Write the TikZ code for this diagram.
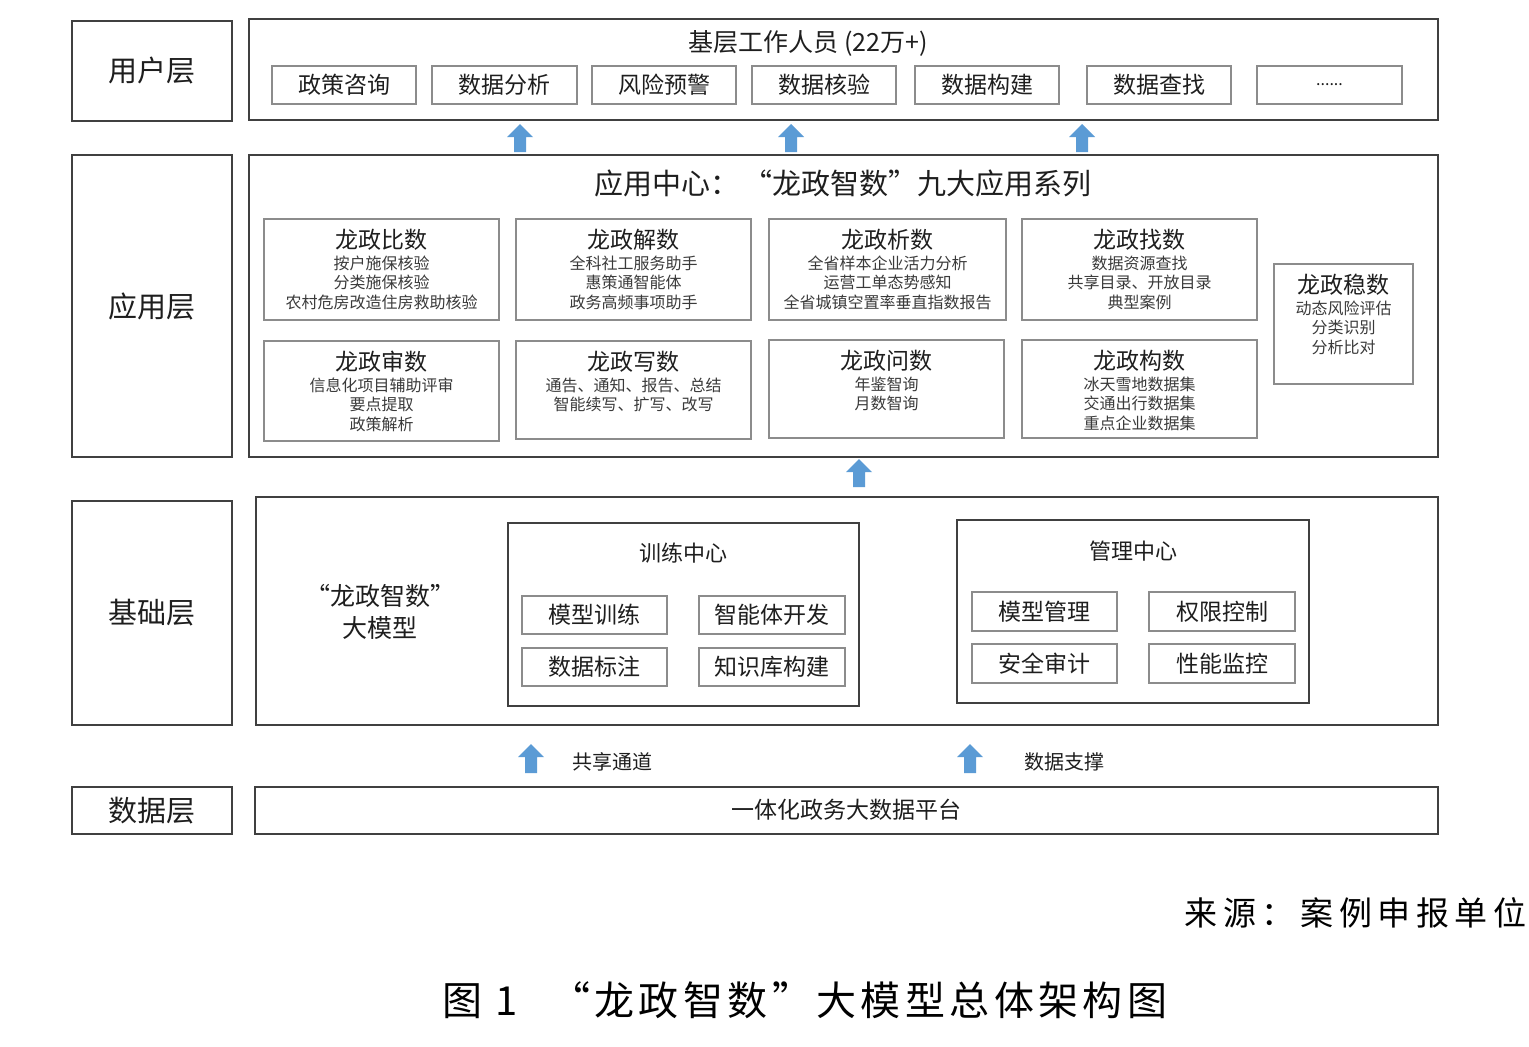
\documentclass[tikz,border=0pt]{standalone}
\usepackage{fontspec}
\setmainfont{Noto Sans CJK SC}
\newfontfamily\capfont[LetterSpace=17]{Noto Sans CJK SC}
\newfontfamily\titfont[LetterSpace=11]{Noto Sans CJK SC}
\definecolor{dline}{HTML}{404040}
\definecolor{lline}{HTML}{8C8C8C}
\definecolor{arrblue}{HTML}{5B9BD5}
\definecolor{txt}{HTML}{1E1E1E}
\definecolor{stxt}{HTML}{3A3A3A}
\newcommand\boxat[6]{%
  \node[#6, anchor=north west, minimum width={(#4-#2)*0.5pt}, minimum height={(#5-#3)*0.5pt}, inner sep=0pt, outer sep=0pt] (#1) at (#2,#3) {};}
\newcommand\txtbox[7]{% name x1 y1 x2 y2 style text
  \boxat{#1}{#2}{#3}{#4}{#5}{#6}
  \node[itemtxt] (#1-t) at (#1.center) {#7};}
\newcommand\appbox[7]{% name x1 y1 x2 y2 title lines
  \boxat{#1}{#2}{#3}{#4}{#5}{subbox}
  \node[apptitle] (#1-t) at ({(#2+#4)/2},{#3+21}) {#6};
  \foreach \l [count=\i] in {#7} {\node[appline] (#1-\i) at ({(#2+#4)/2},{#3+44+19.5*(\i-1)}) {\l};}}
\newcommand\blockup[4]{% name x ytop ybot
  \coordinate (#1) at (#2,#3);
  \fill[arrblue] ({#2-6},#4) -- ({#2-6},{#3+13}) -- ({#2-13},{#3+13}) -- (#2,#3) -- ({#2+13},{#3+13}) -- ({#2+6},{#3+13}) -- ({#2+6},#4) -- cycle;}
\begin{document}
\begin{tikzpicture}[x=0.5pt,y=-0.5pt,
  mainbox/.style={draw=dline, line width=1pt},
  subbox/.style={draw=lline, line width=0.9pt},
  centerbox/.style={draw=dline, line width=0.9pt},
  layertxt/.style={inner sep=0pt, text=txt, font=\fontsize{14.5}{16}\selectfont},
  itemtxt/.style={inner sep=0pt, text=txt, font=\fontsize{11.5}{13}\selectfont},
  apptitle/.style={inner sep=0pt, text=txt, font=\fontsize{11.5}{13}\selectfont},
  appline/.style={inner sep=0pt, text=stxt, font=\fontsize{8}{9}\selectfont},
  headtxt/.style={inner sep=0pt, text=txt, font=\fontsize{11}{13}\selectfont},
  lbltxt/.style={inner sep=0pt, text=txt, font=\fontsize{10}{12}\selectfont}]
\useasboundingbox (0,0) rectangle (1529,1046);
\fill[white] (0,0) rectangle (1529,1046);

% layer labels
\txtbox{L1}{72}{21}{232}{121}{mainbox}{}
\node[layertxt] (L1t) at (L1.center) {用户层};
\txtbox{L2}{72}{155}{232}{457}{mainbox}{}
\node[layertxt] (L2t) at (L2.center) {应用层};
\txtbox{L3}{72}{501}{232}{725}{mainbox}{}
\node[layertxt] (L3t) at (L3.center) {基础层};
\txtbox{L4}{72}{787}{232}{834}{mainbox}{}
\node[layertxt] (L4t) at (L4.center) {数据层};

% user layer
\boxat{U}{249}{19}{1438}{120}{mainbox}
\node[inner sep=0pt, text=txt, font=\fontsize{12.5}{14}\selectfont] (Ut) at (808,43) {基层工作人员 (22万+)};
\txtbox{U1}{272}{66}{416}{104}{subbox}{政策咨询}
\txtbox{U2}{432}{66}{577}{104}{subbox}{数据分析}
\txtbox{U3}{592}{66}{736}{104}{subbox}{风险预警}
\txtbox{U4}{752}{66}{896}{104}{subbox}{数据核验}
\txtbox{U5}{915}{66}{1059}{104}{subbox}{数据构建}
\txtbox{U6}{1087}{66}{1231}{104}{subbox}{数据查找}
\txtbox{U7}{1257}{66}{1402}{104}{subbox}{\fontsize{8}{9}\selectfont ......}

% arrows user <- app
\blockup{A1}{520}{124}{152}
\blockup{A2}{791}{124}{152}
\blockup{A3}{1082}{124}{152}

% application layer
\boxat{P}{249}{155}{1438}{457}{mainbox}
\node[inner sep=0pt, text=txt, font=\fontsize{14.5}{16}\selectfont] (Pt) at (843,183) {应用中心：\,“龙政智数”九大应用系列};
\appbox{B1}{264}{219}{499}{320}{龙政比数}{按户施保核验,分类施保核验,农村危房改造住房救助核验}
\appbox{B2}{516}{219}{751}{320}{龙政解数}{全科社工服务助手,惠策通智能体,政务高频事项助手}
\appbox{B3}{769}{219}{1006}{320}{龙政析数}{全省样本企业活力分析,运营工单态势感知,全省城镇空置率垂直指数报告}
\appbox{B4}{1022}{219}{1257}{320}{龙政找数}{数据资源查找,共享目录、开放目录,典型案例}
\appbox{B5}{264}{341}{499}{441}{龙政审数}{信息化项目辅助评审,要点提取,政策解析}
\appbox{B6}{516}{341}{751}{439}{龙政写数}{通告、通知、报告、总结,智能续写、扩写、改写}
\appbox{B7}{769}{340}{1004}{438}{龙政问数}{年鉴智询,月数智询}
\appbox{B8}{1022}{340}{1257}{438}{龙政构数}{冰天雪地数据集,交通出行数据集,重点企业数据集}
\appbox{B9}{1274}{264}{1413}{384}{龙政稳数}{动态风险评估,分类识别,分析比对}

% arrow app <- base
\blockup{A4}{859}{459}{487}

% base layer
\boxat{F}{256}{497}{1438}{725}{mainbox}
\node[inner sep=0pt, text=txt, align=center, font=\fontsize{12.5}{16}\selectfont] (Ft) at (380,612) {“龙政智数”\\大模型};
\boxat{T}{508}{523}{859}{706}{centerbox}
\node[headtxt] (Tt) at (683,553) {训练中心};
\txtbox{T1}{522}{596}{667}{634}{subbox}{模型训练}
\txtbox{T2}{699}{596}{845}{634}{subbox}{智能体开发}
\txtbox{T3}{522}{648}{667}{686}{subbox}{数据标注}
\txtbox{T4}{699}{648}{845}{686}{subbox}{知识库构建}
\boxat{M}{957}{520}{1309}{703}{centerbox}
\node[headtxt] (Mt) at (1133,551) {管理中心};
\txtbox{M1}{972}{592}{1117}{631}{subbox}{模型管理}
\txtbox{M2}{1149}{592}{1295}{631}{subbox}{权限控制}
\txtbox{M3}{972}{644}{1117}{683}{subbox}{安全审计}
\txtbox{M4}{1149}{644}{1295}{683}{subbox}{性能监控}

% arrows base <- data
\blockup{A5}{531}{744}{773}
\blockup{A6}{970}{744}{773}
\node[lbltxt] (S1) at (612,762) {共享通道};
\node[lbltxt] (S2) at (1064,762) {数据支撑};

% data layer
\boxat{D}{255}{787}{1438}{834}{mainbox}
\node[itemtxt] (Dt) at (846,810) {一体化政务大数据平台};

% captions
\node[inner sep=0pt, anchor=east, text=black, font=\capfont\fontsize{16.5}{18}\selectfont] (src) at (1527,913) {来源：案例申报单位};
\node[inner sep=0pt, text=black, font=\titfont\fontsize{20}{22}\selectfont] (cap) at (805,1000) {图 1\hspace{16pt}“龙政智数”大模型总体架构图};
\end{tikzpicture}
\end{document}
